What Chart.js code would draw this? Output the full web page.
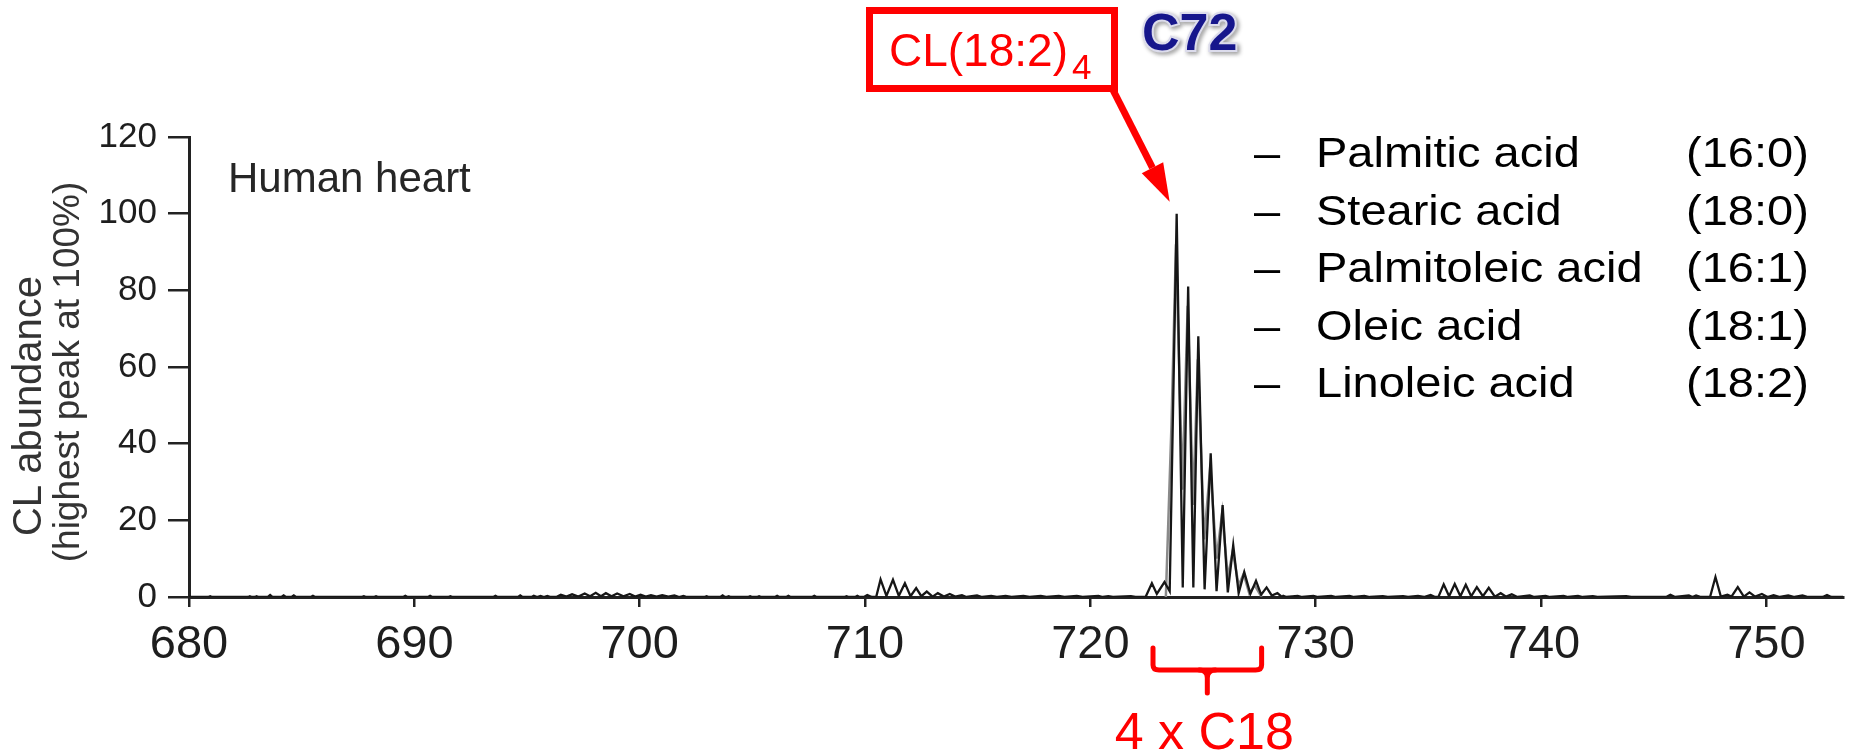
<!DOCTYPE html>
<html>
<head>
<meta charset="utf-8">
<title>CL abundance - Human heart</title>
<script src="https://cdn.jsdelivr.net/npm/chart.js"></script>
<style>
  html, body { margin: 0; padding: 0; background: #fff; }
  #wrap { width: 1858px; height: 755px; }
</style>
</head>
<body>
<div id="wrap"><canvas id="spectrum" width="1858" height="755"></canvas></div>
<script>
// m/z positions and abundances (peaks with the valleys between them)
const mzValues = [
  680, 680.85, 680.94, 681.03, 682.62, 682.7, 682.78, 682.92, 683.0, 683.08,
  683.5, 683.6, 683.7, 684.1, 684.2, 684.3, 684.55, 684.65, 684.75, 685.4, 685.5, 685.6,
  687.66, 687.76, 687.86, 688.2, 688.3, 688.4, 689.5, 689.6, 689.7, 690.6, 690.7, 690.8,
  691.5, 691.6, 691.7, 693.5, 693.6, 693.7, 694.6, 694.7, 694.8, 695.2, 695.3, 695.45, 695.6, 695.75, 695.9, 696.05,
  696.3, 696.5, 696.75, 697.0, 697.28, 697.56, 697.8, 698.05, 698.28, 698.5, 698.75, 699.0, 699.28, 699.56, 699.8, 700.04, 700.27, 700.5, 700.75, 701.0, 701.27, 701.54, 701.75, 701.94, 702.1,
  702.87, 702.97, 703.07, 703.58, 703.68, 703.78, 703.85, 703.95, 704.05, 704.8, 704.9, 705.0,
  705.2, 705.3, 705.4, 706.0, 706.1, 706.2, 706.5, 706.6, 706.7, 707.65, 707.75, 707.85,
  709.08, 709.18, 709.28, 709.56, 709.66, 709.76, 709.95, 710.1, 710.3,
  710.5, 710.69, 710.95, 711.24, 711.5, 711.77, 712.02, 712.27, 712.5, 712.74, 713.0, 713.23, 713.5, 713.76, 714.0,
  714.3, 714.5, 714.97, 715.2, 715.6, 715.85, 716.24, 716.5, 717.03, 717.3, 717.8, 718.05, 718.6, 718.85, 719.4, 719.65, 720.36, 720.55, 720.8, 721.0, 721.8, 722.0,
  722.45, 722.73, 722.95, 723.29, 723.52, 723.83, 724.1, 724.34, 724.57, 724.79, 725.07, 725.34, 725.6, 725.87, 726.1, 726.34, 726.58, 726.83, 727.1, 727.35, 727.58, 727.82, 728.05, 728.3, 728.5,
  728.56, 728.7, 729.2, 729.4, 729.9, 730.1, 730.69, 730.9, 731.5, 731.7, 732.16, 732.4, 732.98, 733.2, 733.88, 734.1, 734.54, 734.8, 735.1, 735.3,
  735.45, 735.68, 735.92, 736.17, 736.42, 736.66, 736.9, 737.15, 737.42, 737.68, 737.95, 738.21, 738.45, 738.7, 738.95,
  739.5, 739.7, 740.2, 740.4, 741.0, 741.2, 741.64, 741.85, 742.3, 742.5, 743.78, 744.0, 745.55, 745.74, 745.95, 746.56, 746.72, 746.88, 747.1,
  747.5, 747.74, 747.98, 748.27, 748.45, 748.73, 749.0, 749.25, 749.5, 749.8, 750.05, 750.32, 750.6, 750.97, 751.25, 751.6, 751.85, 752.5, 752.69, 752.88, 753.4
];
const abundance = [
  0, 0, 0.2, 0, 0, 0.2, 0, 0, 0.2, 0,
  0, 0.5, 0, 0, 0.4, 0, 0, 0.4, 0, 0, 0.3, 0,
  0, 0.2, 0, 0, 0.2, 0, 0, 0.3, 0, 0, 0.3, 0,
  0, 0.2, 0, 0, 0.3, 0, 0, 0.4, 0, 0, 0.3, 0, 0.3, 0, 0.3, 0,
  0, 0.6, 0.1, 0.7, 0.1, 0.9, 0.2, 1.1, 0.2, 1.0, 0.2, 0.9, 0.2, 0.8, 0.1, 0.6, 0.1, 0.5, 0.1, 0.5, 0.1, 0.4, 0, 0.3, 0,
  0, 0.2, 0, 0, 0.4, 0, 0, 0.2, 0, 0, 0.2, 0,
  0, 0.2, 0, 0, 0.3, 0, 0, 0.3, 0, 0, 0.3, 0,
  0, 0.2, 0, 0, 0.3, 0, 0, 0.5, 0,
  0.1, 4.6, 0.3, 4.5, 0.3, 3.6, 0.2, 2.3, 0.2, 1.4, 0.1, 1.0, 0.1, 0.8, 0.1,
  0.5, 0, 0.4, 0, 0.3, 0, 0.3, 0, 0.3, 0, 0.3, 0, 0.3, 0, 0.3, 0, 0.3, 0, 0.2, 0, 0.2, 0,
  0, 3.6, 0.8, 3.9, 1.5, 100, 2.5, 81, 2.5, 68, 2, 37.5, 1.5, 24, 1.2, 13.5, 1, 6.5, 0.8, 4.2, 0.6, 2.5, 0.4, 1.0, 0,
  0.3, 0, 0.3, 0, 0.3, 0, 0.3, 0, 0.3, 0, 0.3, 0, 0.2, 0, 0.2, 0, 0.3, 0, 0.5, 0,
  0.1, 3.3, 0.2, 3.4, 0.2, 3.2, 0.2, 2.6, 0.2, 2.4, 0.1, 1.0, 0.1, 0.7, 0,
  0.4, 0, 0.3, 0, 0.3, 0, 0.3, 0, 0.2, 0, 0.2, 0, 0, 0.6, 0, 0.4, 0, 0.4, 0,
  0, 5.2, 0.1, 0.6, 0.1, 2.6, 0.1, 1.2, 0.1, 0.8, 0, 0.5, 0, 0.4, 0, 0.4, 0, 0, 0.5, 0, 0
];
// second, lower-resolution trace showing through in grey under the C72 cluster
const greyMz = [723.35, 723.6, 723.8, 724.08, 724.32, 724.56, 724.77, 725.05, 725.32, 725.6, 725.85, 726.1, 726.32, 726.58, 726.8, 727.05, 727.3, 727.6];
const greyAbundance = [0, 45, 92, 28, 76, 24, 62, 15, 34, 10, 22, 5, 12, 3, 6, 1, 3, 0];

const xTicks = [680, 690, 700, 710, 720, 730, 740, 750];
const yTicks = [0, 20, 40, 60, 80, 100, 120];
const yTitle = ['CL abundance', '(highest peak at 100%)'];
const acidNames = ['Palmitic acid', 'Stearic acid', 'Palmitoleic acid', 'Oleic acid', 'Linoleic acid'];
const acidCodes = ['(16:0)', '(18:0)', '(16:1)', '(18:1)', '(18:2)'];
const mainPeak = 723.83;
const clusterRange = [722.78, 727.6];

const FONT = "'Liberation Sans', Arial, sans-serif";

var points = mzValues.map(function (mz, i) { return {x: mz, y: abundance[i]}; });
var greyPoints = greyMz.map(function (mz, i) { return {x: mz, y: greyAbundance[i]}; });

// text, arrow and bracket drawn on top of the chart
const annotations = {
  id: 'annotations',
  afterDraw(chart) {
    const ctx = chart.ctx;
    const xs = chart.scales.x, ys = chart.scales.y;
    ctx.save();

    // y axis title, two lines of different size
    ctx.fillStyle = '#333';
    ctx.textAlign = 'center';
    ctx.textBaseline = 'middle';
    ctx.save();
    ctx.translate(30, 406);
    ctx.rotate(-Math.PI / 2);
    ctx.font = '40px ' + FONT;
    ctx.fillText(yTitle[0], 0, 0);
    ctx.restore();
    ctx.save();
    ctx.translate(69, 372);
    ctx.rotate(-Math.PI / 2);
    ctx.font = '37px ' + FONT;
    ctx.fillText(yTitle[1], 0, 0);
    ctx.restore();

    ctx.textBaseline = 'alphabetic';
    ctx.textAlign = 'left';
    ctx.fillStyle = '#262626';
    ctx.font = '42px ' + FONT;
    ctx.fillText('Human heart', 228, 192);

    // fatty acid list
    ctx.fillStyle = '#000';
    ctx.font = '47px ' + FONT;
    acidNames.forEach(function (name, i) {
      ctx.save();
      ctx.translate(0, 167 + i * 57.5);
      ctx.scale(1, 0.92);
      ctx.fillText('\u2013', 1254, 0);
      ctx.fillText(name, 1316, 0);
      ctx.fillText(acidCodes[i], 1686, 0);
      ctx.restore();
    });

    // red label box
    ctx.strokeStyle = '#ff0000';
    ctx.fillStyle = '#ff0000';
    ctx.lineWidth = 7;
    ctx.strokeRect(869.5, 10.5, 245, 78);
    ctx.font = '46px ' + FONT;
    ctx.fillText('CL(18:2)', 889, 66);
    var w = ctx.measureText('CL(18:2)').width;
    ctx.font = '35px ' + FONT;
    ctx.fillText('4', 889 + w + 4, 79);

    // arrow to the highest peak
    var tipX = xs.getPixelForValue(mainPeak) - 7;
    var tipY = ys.getPixelForValue(100) - 12;
    var sx = 1113, sy = 90;
    var ang = Math.atan2(tipY - sy, tipX - sx);
    var headLen = 38, headW = 12;
    var bx = tipX - headLen * Math.cos(ang), by = tipY - headLen * Math.sin(ang);
    ctx.lineWidth = 7;
    ctx.beginPath();
    ctx.moveTo(sx, sy);
    ctx.lineTo(bx, by);
    ctx.stroke();
    ctx.beginPath();
    ctx.moveTo(tipX, tipY);
    ctx.lineTo(bx + headW * Math.sin(ang), by - headW * Math.cos(ang));
    ctx.lineTo(bx - headW * Math.sin(ang), by + headW * Math.cos(ang));
    ctx.closePath();
    ctx.fill();

    // C72
    ctx.font = 'bold 52px ' + FONT;
    ctx.shadowColor = 'rgba(0,0,0,0.45)';
    ctx.shadowBlur = 4;
    ctx.shadowOffsetX = 2;
    ctx.shadowOffsetY = 2;
    ctx.lineWidth = 4;
    ctx.strokeStyle = '#dcdcec';
    ctx.strokeText('C72', 1142, 50);
    ctx.shadowColor = 'transparent';
    ctx.fillStyle = '#16168c';
    ctx.fillText('C72', 1142, 50);

    // bracket under the C72 cluster
    var L = xs.getPixelForValue(clusterRange[0]);
    var R = xs.getPixelForValue(clusterRange[1]);
    var C = (L + R) / 2;
    ctx.strokeStyle = '#ff0000';
    ctx.fillStyle = '#ff0000';
    ctx.lineWidth = 5;
    ctx.lineCap = 'round';
    ctx.lineJoin = 'round';
    ctx.beginPath();
    ctx.moveTo(L, 648);
    ctx.lineTo(L, 665);
    ctx.quadraticCurveTo(L, 670, L + 6, 670);
    ctx.lineTo(R - 6, 670);
    ctx.quadraticCurveTo(R, 670, R, 665);
    ctx.lineTo(R, 648);
    ctx.stroke();
    ctx.beginPath();
    ctx.moveTo(C - 8, 670);
    ctx.quadraticCurveTo(C, 670, C, 678);
    ctx.lineTo(C, 693);
    ctx.moveTo(C + 8, 670);
    ctx.quadraticCurveTo(C, 670, C, 678);
    ctx.stroke();

    ctx.font = '52px ' + FONT;
    ctx.textAlign = 'center';
    ctx.fillText('4 x C18', C - 3, 749);
    ctx.restore();
  }
};

new Chart(document.getElementById('spectrum'), {
  type: 'line',
  data: {
    datasets: [{
      label: 'CL abundance',
      data: points,
      borderColor: '#161616',
      borderWidth: 2.3,
      pointRadius: 0,
      tension: 0,
      fill: false,
      order: 1
    }, {
      label: 'grey trace',
      data: greyPoints,
      borderColor: '#8a8a8a',
      borderWidth: 2.5,
      pointRadius: 0,
      tension: 0,
      fill: false,
      order: 2
    }]
  },
  options: {
    responsive: false,
    animation: false,
    layout: { padding: { top: 137, right: 15, left: 0, bottom: 0 } },
    plugins: {
      legend: { display: false },
      tooltip: { enabled: false }
    },
    scales: {
      x: {
        type: 'linear',
        min: 680,
        max: 753.4,
        afterBuildTicks: function (scale) { scale.ticks = xTicks.map(function (v) { return {value: v}; }); },
        afterFit: function (scale) { scale.height = 158; },
        border: { display: true, color: '#222', width: 3 },
        grid: { drawOnChartArea: false, drawTicks: true, tickLength: 10, color: '#222', lineWidth: 2.5 },
        ticks: { color: '#1e1e1e', padding: 10, maxRotation: 0, autoSkip: false, font: { family: FONT, size: 47 } }
      },
      y: {
        min: 0,
        max: 120,
        afterBuildTicks: function (scale) { scale.ticks = yTicks.map(function (v) { return {value: v}; }); },
        afterFit: function (scale) { scale.width = 189; },
        border: { display: true, color: '#222', width: 3 },
        grid: { drawOnChartArea: false, drawTicks: true, tickLength: 21, color: '#222', lineWidth: 2.5 },
        ticks: { color: '#1e1e1e', padding: 11, font: { family: FONT, size: 35 } }
      }
    }
  },
  plugins: [annotations]
});
</script>
</body>
</html>
